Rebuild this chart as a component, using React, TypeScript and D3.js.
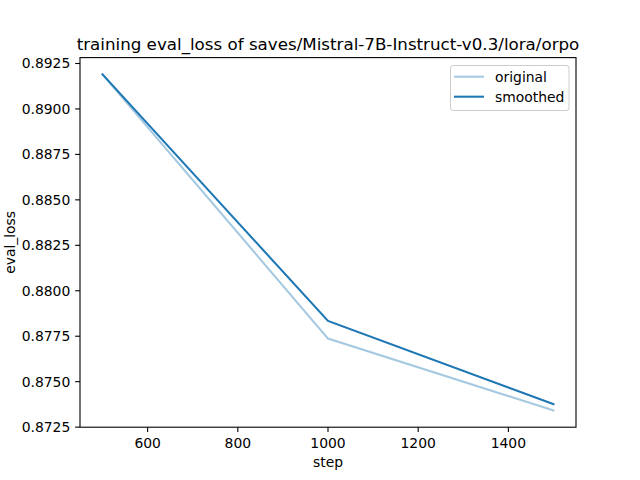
import React from "react";
import * as d3 from "d3";

const steps = [500, 1000, 1500];
const original = [0.8919, 0.87737, 0.87342];
const smoothed = [0.8919, 0.87834, 0.87376];
const xTicks = [600, 800, 1000, 1200, 1400];
const yTicks = [0.8725, 0.875, 0.8775, 0.88, 0.8825, 0.885, 0.8875, 0.89, 0.8925];
const seriesNames = ["original", "smoothed"];
const titleText = "training eval_loss of saves/Mistral-7B-Instruct-v0.3/lora/orpo";

const W = 640, H = 480;
const L = 80, R = 576, T = 57.6, B = 427.2;
const FONT = "DejaVu Sans, sans-serif";
const BLUE = "#1f77b4";

export default function App() {
  const xMin = d3.min(steps)!, xMax = d3.max(steps)!;
  const xPad = (xMax - xMin) * 0.05;
  const x = d3.scaleLinear().domain([xMin - xPad, xMax + xPad]).range([L, R]);
  const all = [...original, ...smoothed];
  const yMin = d3.min(all)!, yMax = d3.max(all)!;
  const yPad = (yMax - yMin) * 0.05;
  const y = d3.scaleLinear().domain([yMin - yPad, yMax + yPad]).range([B, T]);
  const line = d3.line<number>().x((_, i) => x(steps[i])).y((d) => y(d));
  const tick = 4.86;
  return (
    <div style={{ position: "absolute", left: 0, top: 0 }}>
      <svg width={W} height={H} style={{ display: "block", background: "#fff" }}>
        <rect x={0} y={0} width={W} height={H} fill="#fff" />
        <path d={line(original)!} fill="none" stroke={BLUE} strokeOpacity={0.4} strokeWidth={2.08} strokeLinecap="square" />
        <path d={line(smoothed)!} fill="none" stroke={BLUE} strokeWidth={2.08} strokeLinecap="square" />
        <rect x={L} y={T} width={R - L} height={B - T} fill="none" stroke="#000" strokeWidth={1.1} />
        {xTicks.map((t) => (
          <g key={t}>
            <line x1={x(t)} x2={x(t)} y1={B} y2={B + tick} stroke="#000" strokeWidth={1.1} />
            <text x={x(t)} y={B + tick + 4.9 + 10.6} textAnchor="middle" fontFamily={FONT} fontSize={13.9} fill="#000">{t}</text>
          </g>
        ))}
        {yTicks.map((t) => (
          <g key={t}>
            <line x1={L - tick} x2={L} y1={y(t)} y2={y(t)} stroke="#000" strokeWidth={1.1} />
            <text x={L - tick - 4.9} y={y(t)} dy="0.36em" textAnchor="end" fontFamily={FONT} fontSize={13.9} fill="#000">{t.toFixed(4)}</text>
          </g>
        ))}
        <text x={(L + R) / 2} y={467} textAnchor="middle" fontFamily={FONT} fontSize={13.9} fill="#000">step</text>
        <text transform={`translate(14.5,${(T + B) / 2}) rotate(-90)`} textAnchor="middle" fontFamily={FONT} fontSize={13.9} fill="#000">eval_loss</text>
        <text x={(L + R) / 2} y={50} textAnchor="middle" fontFamily={FONT} fontSize={16.7} fill="#000">{titleText}</text>
        <g>
          <rect x={450.5} y={65.5} width={118.5} height={45} rx={2.8} fill="#fff" fillOpacity={0.8} stroke="#cccccc" strokeWidth={1} />
          {seriesNames.map((n, i) => (
            <g key={n}>
              <line x1={454} x2={484} y1={76.7 + i * 20} y2={76.7 + i * 20} stroke={BLUE} strokeOpacity={i === 0 ? 0.4 : 1} strokeWidth={2.08} />
              <text x={495} y={76.7 + i * 20} dy="0.36em" fontFamily={FONT} fontSize={13.9} fill="#000">{n}</text>
            </g>
          ))}
        </g>
      </svg>
    </div>
  );
}
